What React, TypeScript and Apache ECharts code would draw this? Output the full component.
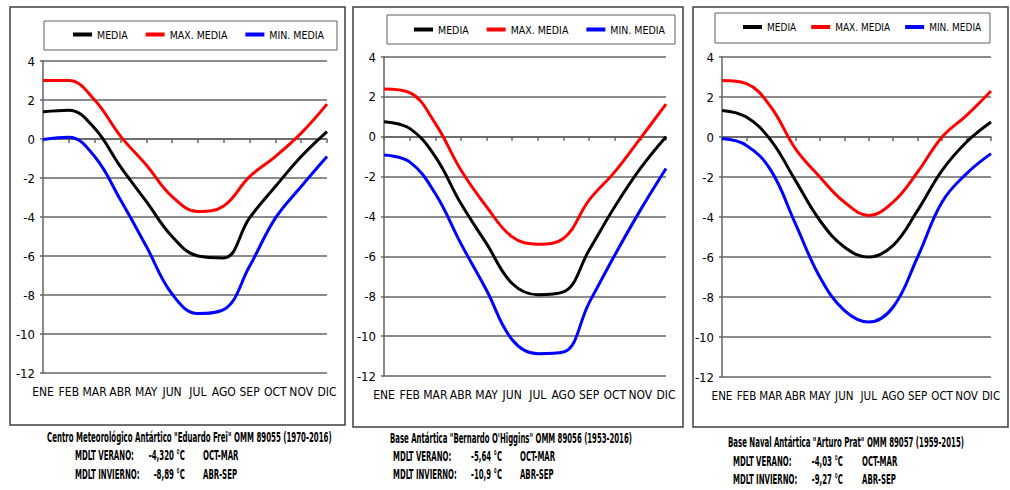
import React, { useEffect, useRef } from "react";
import * as echarts from "echarts";

const months = ["ENE", "FEB", "MAR", "ABR", "MAY", "JUN", "JUL", "AGO", "SEP", "OCT", "NOV", "DIC"];
const yTicks = { min: -12, max: 4, interval: 2 };
const seriesNames = ["MEDIA", "MAX. MEDIA", "MIN. MEDIA"];

// Centro Meteorológico Antártico "Eduardo Frei"
const freiMedia = [1.4, 1.48, 0.55, -1.42, -3.2, -5.0, -6.0, -6.1, -4.05, -2.44, -0.9, 0.38];
const freiMax = [3.0, 3.0, 2.0, 0.15, -1.33, -2.95, -3.72, -3.43, -1.93, -0.9, 0.3, 1.79];
const freiMin = [-0.02, 0.09, -0.9, -3.12, -5.5, -7.95, -8.95, -8.75, -6.53, -4.06, -2.44, -0.9];

// Base Antártica "Bernardo O'Higgins"
const higginsMedia = [0.75, 0.42, -1.0, -3.35, -5.36, -7.36, -7.92, -7.78, -5.69, -3.51, -1.59, 0.0];
const higginsMax = [2.39, 2.21, 0.67, -1.67, -3.51, -5.02, -5.39, -5.1, -3.18, -1.76, -0.08, 1.64];
const higginsMin = [-0.92, -1.26, -2.85, -5.36, -7.7, -10.18, -10.88, -10.8, -8.33, -5.94, -3.68, -1.59];

// Base Naval Antártica "Arturo Prat"
const pratMedia = [1.33, 1.0, -0.17, -2.17, -4.17, -5.5, -6.0, -5.42, -3.67, -1.67, -0.25, 0.75];
const pratMax = [2.83, 2.67, 1.5, -0.58, -2.0, -3.25, -3.92, -3.25, -1.75, 0.0, 1.08, 2.3];
const pratMin = [-0.08, -0.42, -1.67, -4.33, -7.0, -8.67, -9.25, -8.5, -6.0, -3.25, -1.83, -0.83];

const captions = [
  {
    title: 'Centro Meteorológico Antártico "Eduardo Frei" OMM 89055 (1970-2016)',
    verano: "-4,320 °C",
    invierno: "-8,89 °C",
  },
  {
    title: 'Base Antártica "Bernardo O\'Higgins" OMM 89056 (1953-2016)',
    verano: "-5,64 °C",
    invierno: "-10,9 °C",
  },
  {
    title: 'Base Naval Antártica "Arturo Prat" OMM 89057 (1959-2015)',
    verano: "-4,03 °C",
    invierno: "-9,27 °C",
  },
];
const veranoLabel = "MDLT VERANO:";
const inviernoLabel = "MDLT INVIERNO:";
const veranoMonths = "OCT-MAR";
const inviernoMonths = "ABR-SEP";

const FONT = "'DejaVu Sans Condensed', 'Liberation Sans Narrow', 'Arial Narrow', sans-serif";
const colors = ["#000000", "#ff0000", "#0000ff"];
const GRID_COLOR = "#646464";

// layout per panel
const panels = [
  {
    grid: { left: 43, top: 61, width: 284, height: 312 },
    border: [10, 7, 335, 418],
    legendBox: [44, 21, 293, 29],
    legendLeft: 73,
    legendY: 35,
    legendFont: 10.5,
    legendGap: 18,
    xFont: 12,
    xMargin: 13,
    titleX: 47,
    titleW: 285,
    titleY: 438,
    line1Y: 456,
    line2Y: 475,
    colX: [75, 185, 203],
    data: [freiMedia, freiMax, freiMin],
  },
  {
    grid: { left: 384, top: 57, width: 282, height: 319 },
    border: [353, 7, 330, 420],
    legendBox: [387, 15, 288, 29],
    legendLeft: 414,
    legendY: 30,
    legendFont: 10.5,
    legendGap: 18,
    xFont: 12,
    xMargin: 13,
    titleX: 390,
    titleW: 242,
    titleY: 439,
    line1Y: 457,
    line2Y: 475,
    colX: [393, 502, 520],
    data: [higginsMedia, higginsMax, higginsMin],
  },
  {
    grid: { left: 722, top: 57, width: 269, height: 320 },
    border: [693, 7, 315, 420],
    legendBox: [715, 13, 275, 30],
    legendLeft: 743,
    legendY: 28,
    legendFont: 10,
    legendGap: 15,
    xFont: 11.5,
    xMargin: 13,
    titleX: 728,
    titleW: 236,
    titleY: 443,
    line1Y: 462,
    line2Y: 480,
    colX: [733, 843, 862],
    data: [pratMedia, pratMax, pratMin],
  },
];

const CAPTION_SIZE = 13.5;

export default function App() {
  const ref = useRef<HTMLDivElement>(null);

  useEffect(() => {
    if (!ref.current) return;
    const chart = echarts.init(ref.current, undefined, { renderer: "svg" });

    const canvas = document.createElement("canvas");
    const ctx = canvas.getContext("2d") as CanvasRenderingContext2D;
    ctx.font = `bold ${CAPTION_SIZE}px ${FONT}`;

    const grids: any[] = [];
    const xAxes: any[] = [];
    const yAxes: any[] = [];
    const series: any[] = [];
    const legends: any[] = [];
    const graphics: any[] = [];

    panels.forEach((p, i) => {
      grids.push({ ...p.grid, containLabel: false });
      xAxes.push({
        type: "category",
        gridIndex: i,
        data: months,
        boundaryGap: false,
        axisLine: { show: true, lineStyle: { color: GRID_COLOR, width: 1.5 } },
        axisTick: { show: true, length: 4, lineStyle: { color: GRID_COLOR, width: 1.5 } },
        axisLabel: { color: "#000", fontFamily: FONT, fontSize: p.xFont, margin: p.xMargin, interval: 0 },
        splitLine: { show: false },
      });
      yAxes.push({
        type: "value",
        gridIndex: i,
        min: yTicks.min,
        max: yTicks.max,
        interval: yTicks.interval,
        axisLine: { show: true, lineStyle: { color: GRID_COLOR, width: 1.5 } },
        axisTick: { show: true, length: 3, lineStyle: { color: GRID_COLOR, width: 1.5 } },
        axisLabel: { color: "#000", fontFamily: FONT, fontSize: 13, margin: 8 },
        splitLine: { show: true, lineStyle: { color: GRID_COLOR, width: 1.5 } },
      });
      p.data.forEach((d, k) => {
        series.push({
          type: "line",
          name: seriesNames[k],
          xAxisIndex: i,
          yAxisIndex: i,
          data: d,
          smooth: 0.4,
          showSymbol: false,
          symbol: "none",
          lineStyle: { color: colors[k], width: 3 },
          itemStyle: { color: colors[k] },
          z: 3 + (2 - k),
        });
      });
      legends.push({
        data: seriesNames,
        left: p.legendLeft,
        top: p.legendY - 6,
        width: 300,
        orient: "horizontal",
        icon: "rect",
        itemWidth: 19,
        itemHeight: 4,
        itemGap: p.legendGap,
        padding: 0,
        selectedMode: false,
        textStyle: { fontFamily: FONT, fontSize: p.legendFont, color: "#000" },
      });
      const [bx, by, bw, bh] = p.border;
      graphics.push({
        type: "rect",
        shape: { x: bx, y: by, width: bw, height: bh },
        style: { fill: "none", stroke: "#404040", lineWidth: 1.5 },
        silent: true,
      });
      const [lx, ly, lw, lh] = p.legendBox;
      graphics.push({
        type: "rect",
        shape: { x: lx, y: ly, width: lw, height: lh },
        style: { fill: "none", stroke: "#606060", lineWidth: 1 },
        silent: true,
      });
      const c = captions[i];
      const measured = ctx.measureText(c.title).width || p.titleW;
      const sx = Math.min(1, p.titleW / measured);
      const txt = (text: string, x: number, y: number, align: string = "left") => ({
        type: "text",
        x,
        y,
        scaleX: sx,
        silent: true,
        style: {
          text,
          fontFamily: FONT,
          fontWeight: "bold",
          fontSize: CAPTION_SIZE,
          fill: "#000",
          align,
          verticalAlign: "middle",
        },
      });
      graphics.push(txt(c.title, p.titleX, p.titleY));
      graphics.push(txt(veranoLabel, p.colX[0], p.line1Y));
      graphics.push(txt(c.verano, p.colX[1], p.line1Y, "right"));
      graphics.push(txt(veranoMonths, p.colX[2], p.line1Y));
      graphics.push(txt(inviernoLabel, p.colX[0], p.line2Y));
      graphics.push(txt(c.invierno, p.colX[1], p.line2Y, "right"));
      graphics.push(txt(inviernoMonths, p.colX[2], p.line2Y));
    });

    chart.setOption({
      animation: false,
      backgroundColor: "#ffffff",
      grid: grids,
      xAxis: xAxes,
      yAxis: yAxes,
      legend: legends,
      series,
      graphic: graphics,
    });

    return () => chart.dispose();
  }, []);

  return (
    <div
      ref={ref}
      style={{ position: "fixed", left: 0, top: 0, width: 1010, height: 490, background: "#fff" }}
    />
  );
}
